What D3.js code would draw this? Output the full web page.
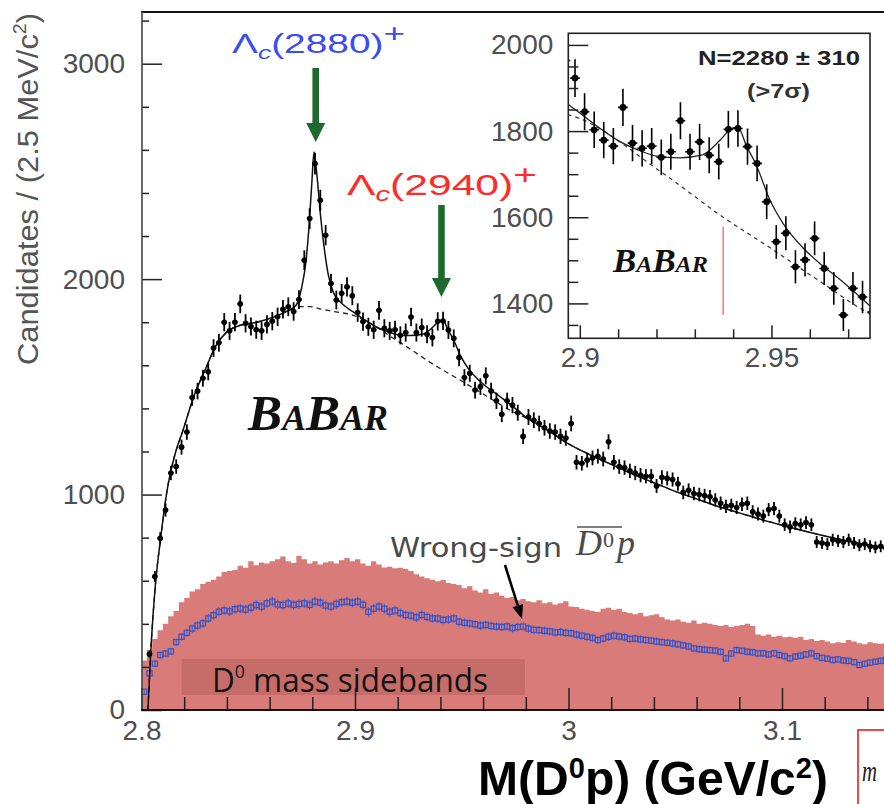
<!DOCTYPE html>
<html>
<head>
<meta charset="utf-8">
<script src="https://cdn.jsdelivr.net/npm/d3@7"></script>
<style>
  html, body { margin: 0; padding: 0; background: #fff; }
  svg { display: block; }
</style>
</head>
<body>
<svg id="chart" width="884" height="804"></svg>
<script>
// ---- binning: 2.5 MeV bins starting at 2.80 GeV ----
const binLow = 2.8;
const binWidth = 0.0025;

// D0 p candidates per bin (right sign)
const candidates = [
  null, 260, 620, 797, 928, 1100, 1130, 1220, 1290, 1450,
  1480, 1540, 1570, 1680, 1705, 1800, 1760, 1800, 1885, 1795,
  1780, 1765, 1760, 1790, 1805, 1825, 1860, 1872, 1850, 1905,
  2088, 2281, 2536, 2366, 2204, 1980, 1903, 1934, 1964, 1923,
  1845, 1803, 1779, 1765, 1855, 1772, 1760, 1765, 1739, 1752,
  1824, 1752, 1775, 1744, 1729, 1804, 1806, 1764, 1725, 1636,
  1543, 1563, 1485, 1501, 1551, 1481, 1435, 1373, 1435, 1415,
  1380, 1270, 1360, 1345, 1330, 1310, 1295, 1290, 1270, 1262,
  1330, 1150, 1145, 1160, 1170, 1178, 1165, 1245, 1150, 1130,
  1125, 1110, 1100, 1090, 1085, 1085, 1040, 1080, 1075, 1070,
  1050, 1010, 1020, 1005, 1000, 995, 990, 975, 960, 945,
  950, 940, 955, 960, 920, 910, 900, 930, 935, 900,
  860, 850, 865, 860, 870, 860, 780, 775, 770, 790,
  785, 780, 790, 775, 765, 770, 760, 755, 760, 750
];

// D0 mass sideband distribution (filled histogram)
const sidebands = [
  230, 280, 330, 370, 400, 435, 460, 500, 520, 550,
  560, 585, 595, 605, 620, 640, 645, 650, 670, 660,
  690, 672, 685, 680, 690, 700, 712, 690, 682, 715,
  700, 680, 690, 675, 685, 690, 680, 695, 705, 690,
  700, 680, 670, 690, 675, 662, 665, 658, 660, 655,
  645, 630, 620, 612, 605, 598, 603, 590, 585, 580,
  565, 575, 555, 545, 560, 540, 545, 530, 520, 525,
  510, 515, 505, 500, 510, 495, 500, 490, 495, 505,
  480, 478, 470, 465, 460, 455, 470, 475, 465, 470,
  455, 450, 445, 450, 435, 440, 445, 430, 420, 415,
  420, 410, 405, 415, 400, 405, 400, 395, 390, 395,
  385, 390, 395, 400, 390, 350, 345, 350, 340, 345,
  338, 340, 335, 340, 325, 330, 320, 325, 318, 310,
  315, 312, 325, 318, 310, 305, 315, 310, 308, 312
];

// wrong-sign anti-D0 p candidates
const wrongSign = [
  85, 170, 215, 255, 262, 272, 315, 340, 358, 378,
  392, 402, 425, 440, 456, 462, 458, 468, 471, 466,
  475, 487, 480, 495, 503, 490, 487, 495, 488, 492,
  495, 488, 503, 498, 485, 480, 492, 500, 503, 498,
  503, 488, 456, 470, 480, 470, 456, 462, 450, 441,
  438, 430, 441, 432, 425, 425, 418, 420, 425, 410,
  405, 402, 398, 392, 395, 390, 387, 385, 388, 380,
  385, 387, 378, 372, 371, 368, 365, 360, 362, 358,
  356, 350, 345, 340, 335, 325, 332, 340, 345, 341,
  338, 330, 332, 328, 325, 322, 318, 315, 312, 309,
  305, 300, 295, 286, 282, 280, 278, 276, 270, 240,
  262, 278, 275, 270, 268, 263, 263, 258, 263, 255,
  250, 240, 248, 252, 258, 263, 250, 242, 238, 232,
  235, 230, 228, 222, 209, 215, 220, 224, 228, 232
];

// fit curves [mass GeV, candidates]
const fitRise = [
  [2.8030, 0], [2.8045, 300], [2.8065, 580], [2.8090, 800], [2.8120, 1020],
  [2.8155, 1180], [2.8195, 1300], [2.8245, 1455], [2.8305, 1595], [2.8345, 1685],
  [2.8400, 1755], [2.8460, 1785], [2.8540, 1800], [2.8620, 1825], [2.8680, 1850]
];
const fitSignalRegion = [
  [2.8725, 1880], [2.8750, 1960], [2.8770, 2080], [2.8785, 2250], [2.8798, 2450],
  [2.8808, 2590], [2.8822, 2480], [2.8838, 2300], [2.8855, 2150], [2.8875, 2020],
  [2.8900, 1935], [2.8930, 1895], [2.8970, 1862], [2.9000, 1842], [2.9050, 1808],
  [2.9100, 1778], [2.9150, 1757], [2.9200, 1742], [2.9260, 1738], [2.9320, 1745],
  [2.9365, 1778], [2.9395, 1806], [2.9412, 1810], [2.9435, 1765], [2.9460, 1722],
  [2.9496, 1640], [2.9530, 1586], [2.9580, 1531], [2.9630, 1490], [2.9670, 1462],
  [2.9750, 1400], [2.9800, 1360]
];
const backgroundRegion = [
  [2.8740, 1872], [2.8790, 1872], [2.8844, 1860], [2.8890, 1852], [2.8930, 1845],
  [2.8970, 1838], [2.9217, 1702], [2.9374, 1600], [2.9500, 1527], [2.9620, 1455],
  [2.9748, 1380], [2.9800, 1356]
];
const fitTail = [
  [2.9900, 1300], [3.0000, 1235], [3.0100, 1185], [3.0200, 1140], [3.0300, 1095],
  [3.0400, 1055], [3.0500, 1015], [3.0600, 980], [3.0700, 945], [3.0800, 915],
  [3.0900, 885], [3.1000, 858], [3.1100, 832], [3.1200, 808], [3.1300, 786],
  [3.1400, 766], [3.1500, 748], [3.1600, 732]
];
const fitTotal = [...fitRise, ...fitSignalRegion, ...fitTail];
const fitBackground = [...fitRise, ...backgroundRegion, ...fitTail];

// axis ticks
const yMajor = [0, 1000, 2000, 3000];
const yMinor = d3.range(200, 3201, 200).filter(v => v % 1000 !== 0);
const xMajor = [2.8, 2.9, 3.0, 3.1];
const xMinor = [2.82, 2.84, 2.86, 2.88, 2.92, 2.94, 2.96, 2.98, 3.02, 3.04, 3.06, 3.08, 3.12, 3.14];
const insetYMajor = [1400, 1600, 1800, 2000];
const insetYMinor = d3.range(1350, 2001, 50).filter(v => v % 200 !== 0);
const insetXMajor = [2.9, 2.95];
const insetXMinor = [2.91, 2.92, 2.93, 2.94, 2.96, 2.97];

// resonances marked with arrows
const resonanceMasses = [2.8816, 2.9405];
const insetMarkerMass = 2.9374;
const yieldText = "N=2280 \u00b1 310";
const significanceText = "(>7\u03c3)";

const SANS = "'Liberation Sans', Arial, Helvetica, sans-serif";
const SERIF = "'Liberation Serif', 'Times New Roman', serif";
const TICK_COLOR = "#4e4e4e";

const svg = d3.select("#chart");
svg.append("rect").attr("width", 884).attr("height", 804).attr("fill", "#fff");

const xMain = d3.scaleLinear().domain([2.8, 3.2]).range([141.5, 995.5]);
const yMain = d3.scaleLinear().domain([0, 3240]).range([710, 12]);
const xIn = d3.scaleLinear().domain([2.897, 2.9757]).range([568.3, 870]);
const yIn = d3.scaleLinear().domain([1319, 2027]).range([338.3, 33.3]);

const center = k => binLow + (k + 0.5) * binWidth;

const defs = svg.append("defs");
defs.append("clipPath").attr("id", "clipMain")
  .append("rect").attr("x", 142).attr("y", 12).attr("width", 742).attr("height", 698);
defs.append("clipPath").attr("id", "clipInset")
  .append("rect").attr("x", 568.3).attr("y", 33.3).attr("width", 301.7).attr("height", 305);

// ---------------- main panel ----------------
const plot = svg.append("g").attr("clip-path", "url(#clipMain)");

// sideband histogram
const histData = sidebands.map((v, k) => ({ e: binLow + k * binWidth, v }));
histData.push({ e: binLow + sidebands.length * binWidth, v: sidebands[sidebands.length - 1] });
plot.append("path")
  .datum(histData)
  .attr("fill", "#d97b78")
  .attr("d", d3.area().curve(d3.curveStepAfter)
    .x(d => xMain(d.e)).y0(yMain(0)).y1(d => yMain(d.v)));

// sideband caption box
plot.append("rect").attr("x", 181.7).attr("y", 659).attr("width", 343.3).attr("height", 36)
  .attr("fill", "#c66d6a");
const sbText = plot.append("text").attr("x", 212).attr("y", 692)
  .attr("font-family", "'Open Sans', 'Noto Sans', sans-serif").attr("font-size", 32)
  .attr("fill", "#141414").attr("textLength", 276).attr("lengthAdjust", "spacingAndGlyphs");
sbText.append("tspan").text("D");
sbText.append("tspan").attr("font-size", 18).attr("dy", -14).text("0");
sbText.append("tspan").attr("dy", 14).text(" mass sidebands");

// wrong-sign points (open squares)
const ws = plot.append("g");
wrongSign.forEach((v, k) => {
  const cx = xMain(center(k)), cy = yMain(v), e = Math.sqrt(v);
  ws.append("line").attr("x1", cx).attr("x2", cx)
    .attr("y1", yMain(v - e)).attr("y2", yMain(v + e))
    .attr("stroke", "#3b57c8").attr("stroke-width", 1);
  ws.append("rect").attr("x", cx - 2.6).attr("y", cy - 2.6).attr("width", 5.2).attr("height", 5.2)
    .attr("fill", "none").attr("stroke", "#3453c9").attr("stroke-width", 1.2);
});

// fit curves
const lineMain = d3.line().curve(d3.curveMonotoneX).x(d => xMain(d[0])).y(d => yMain(d[1]));
plot.append("path").datum(fitBackground).attr("d", lineMain)
  .attr("fill", "none").attr("stroke", "#222").attr("stroke-width", 1.3).attr("stroke-dasharray", "5,4");
plot.append("path").datum(fitTotal).attr("d", lineMain)
  .attr("fill", "none").attr("stroke", "#111").attr("stroke-width", 1.5);

// data points with errors
function drawPoints(g, xs, ys, indices, r, sw) {
  indices.forEach(k => {
    const v = candidates[k];
    if (v == null) return;
    const c = center(k), e = Math.sqrt(v);
    const cx = xs(c), cy = ys(v);
    g.append("line").attr("x1", cx).attr("x2", cx)
      .attr("y1", ys(v - e)).attr("y2", ys(v + e))
      .attr("stroke", "#000").attr("stroke-width", sw);
    g.append("line").attr("x1", xs(c - binWidth / 2)).attr("x2", xs(c + binWidth / 2))
      .attr("y1", cy).attr("y2", cy)
      .attr("stroke", "#000").attr("stroke-width", sw);
    g.append("circle").attr("cx", cx).attr("cy", cy).attr("r", r).attr("fill", "#000");
  });
}
drawPoints(plot.append("g"), xMain, yMain, d3.range(candidates.length), 2.8, 1.8);

// ---------------- main axes ----------------
function styleAxis(g, size) {
  g.attr("font-family", SANS).attr("font-size", size);
  g.select(".domain").remove();
  g.selectAll(".tick line").attr("stroke", "#222").attr("stroke-width", 1.5);
  g.selectAll(".tick text").attr("fill", TICK_COLOR);
}
const fmt = d3.format("~g");

styleAxis(svg.append("g").attr("transform", "translate(142,0)")
  .call(d3.axisLeft(yMain).tickValues(yMajor).tickSizeInner(-20).tickSizeOuter(0)
    .tickPadding(17).tickFormat(d3.format("d"))), 28);
styleAxis(svg.append("g").attr("transform", "translate(142,0)")
  .call(d3.axisLeft(yMain).tickValues(yMinor).tickSizeInner(-7).tickSizeOuter(0).tickFormat("")), 28);

styleAxis(svg.append("g").attr("transform", "translate(0,710)")
  .call(d3.axisBottom(xMain).tickValues(xMajor).tickSizeInner(-22).tickSizeOuter(0)
    .tickPadding(10).tickFormat(fmt)), 28);
styleAxis(svg.append("g").attr("transform", "translate(0,710)")
  .call(d3.axisBottom(xMain).tickValues(xMinor).tickSizeInner(-13).tickSizeOuter(0).tickFormat("")), 28);

// frame
svg.append("line").attr("x1", 141).attr("x2", 884).attr("y1", 12).attr("y2", 12)
  .attr("stroke", "#111").attr("stroke-width", 2.2);
svg.append("line").attr("x1", 142).attr("x2", 142).attr("y1", 11).attr("y2", 711)
  .attr("stroke", "#444").attr("stroke-width", 1.6);
svg.append("line").attr("x1", 141).attr("x2", 884).attr("y1", 710).attr("y2", 710)
  .attr("stroke", "#111").attr("stroke-width", 2);

// axis titles
const yTitle = svg.append("text")
  .attr("transform", "translate(38,365) rotate(-90)")
  .attr("font-family", SANS).attr("font-size", 30).attr("fill", "#555")
  .attr("textLength", 352).attr("lengthAdjust", "spacingAndGlyphs");
yTitle.append("tspan").text("Candidates / (2.5 MeV/c");
yTitle.append("tspan").attr("font-size", 19).attr("dy", -12).text("2");
yTitle.append("tspan").attr("dy", 12).text(")");

const xTitle = svg.append("text").attr("x", 478).attr("y", 795)
  .attr("font-family", SANS).attr("font-weight", "bold").attr("font-size", 48).attr("fill", "#000")
  .attr("textLength", 350).attr("lengthAdjust", "spacingAndGlyphs");
xTitle.append("tspan").text("M(D");
xTitle.append("tspan").attr("font-size", 29).attr("dy", -17).text("0");
xTitle.append("tspan").attr("dy", 17).text("p) (GeV/c");
xTitle.append("tspan").attr("font-size", 29).attr("dy", -17).text("2");
xTitle.append("tspan").attr("dy", 17).text(")");

// ---------------- annotations ----------------
function resonanceLabel(x, yb, size, color, mass, len) {
  const t = svg.append("text").attr("x", x).attr("y", yb)
    .attr("font-family", SANS).attr("font-size", size).attr("fill", color)
    .attr("textLength", len).attr("lengthAdjust", "spacingAndGlyphs");
  t.append("tspan").text("\u039b");
  t.append("tspan").attr("font-size", size * 0.68).attr("font-style", "italic").attr("dy", 6).text("c");
  t.append("tspan").attr("dy", -6).text("(" + mass + ")");
  t.append("tspan").attr("font-size", size * 0.95).attr("dy", -11).text("+");
}
resonanceLabel(232, 53, 28, "#3b4cf0", "2880", 173);
resonanceLabel(347, 195, 30, "#ff2a2a", "2940", 190);

function greenArrow(xc, y0, tip) {
  const hw = 3.3, headH = 19, headW = 9.5;
  return `M${xc - hw},${y0}L${xc + hw},${y0}L${xc + hw},${tip - headH}L${xc + headW},${tip - headH}` +
    `L${xc},${tip}L${xc - headW},${tip - headH}L${xc - hw},${tip - headH}Z`;
}
svg.append("path").attr("d", greenArrow(xMain(resonanceMasses[0]), 68, 142)).attr("fill", "#1e6a2e");
svg.append("path").attr("d", greenArrow(xMain(resonanceMasses[1]), 205, 297)).attr("fill", "#1e6a2e");

function babar(x, yb, big, small, len) {
  const t = svg.append("text").attr("x", x).attr("y", yb)
    .attr("font-family", SERIF).attr("font-style", "italic").attr("font-weight", "bold")
    .attr("fill", "#111").attr("textLength", len).attr("lengthAdjust", "spacingAndGlyphs");
  [["B", big], ["A", small], ["B", big], ["AR", small]].forEach(([s, f]) =>
    t.append("tspan").attr("font-size", f).text(s));
}
babar(248, 430, 50, 35, 140);

// wrong-sign legend
svg.append("text").attr("x", 390).attr("y", 557)
  .attr("font-family", "'DejaVu Sans', Verdana, sans-serif").attr("font-size", 26).attr("fill", "#4a4a4a")
  .attr("textLength", 172).attr("lengthAdjust", "spacingAndGlyphs").text("Wrong-sign");
const wsMath = svg.append("text").attr("y", 555).attr("font-family", SERIF)
  .attr("font-style", "italic").attr("fill", "#4a4a4a");
wsMath.append("tspan").attr("x", 576).attr("font-size", 36).text("D");
wsMath.append("tspan").attr("x", 603).attr("y", 547).attr("font-style", "normal").attr("font-size", 22).text("0");
wsMath.append("tspan").attr("x", 617).attr("y", 555).attr("font-size", 36).text("p");
svg.append("line").attr("x1", 577).attr("x2", 622).attr("y1", 527).attr("y2", 527)
  .attr("stroke", "#555").attr("stroke-width", 1.4);
{
  const x0 = 505, y0 = 565, x1 = 522, y1 = 619;
  const len = Math.hypot(x1 - x0, y1 - y0), ux = (x1 - x0) / len, uy = (y1 - y0) / len;
  const bx = x1 - 14 * ux, by = y1 - 14 * uy;
  svg.append("line").attr("x1", x0).attr("y1", y0).attr("x2", bx).attr("y2", by)
    .attr("stroke", "#000").attr("stroke-width", 2.6);
  svg.append("path")
    .attr("d", `M${x1},${y1}L${bx + 5.5 * uy},${by - 5.5 * ux}L${bx - 5.5 * uy},${by + 5.5 * ux}Z`)
    .attr("fill", "#000");
}

// ---------------- inset ----------------
svg.append("rect").attr("x", 568.3).attr("y", 33.3).attr("width", 301.7).attr("height", 305).attr("fill", "#fff");
const inset = svg.append("g").attr("clip-path", "url(#clipInset)");

const lineIn = d3.line().curve(d3.curveMonotoneX).x(d => xIn(d[0])).y(d => yIn(d[1]));
inset.append("path").datum(fitBackground).attr("d", lineIn)
  .attr("fill", "none").attr("stroke", "#333").attr("stroke-width", 1.2).attr("stroke-dasharray", "4,4");
inset.append("path").datum(fitTotal).attr("d", lineIn)
  .attr("fill", "none").attr("stroke", "#222").attr("stroke-width", 1.3);

inset.append("line").attr("x1", xIn(insetMarkerMass)).attr("x2", xIn(insetMarkerMass))
  .attr("y1", yIn(1373)).attr("y2", yIn(1578)).attr("stroke", "#f07a7a").attr("stroke-width", 1.5);

const insetIdx = d3.range(candidates.length).filter(k => center(k) > 2.896 && center(k) < 2.977);
drawPoints(inset.append("g"), xIn, yIn, insetIdx, 3.4, 1.6);

babar(613, 271.7, 33, 23, 95);

styleAxis(svg.append("g").attr("transform", "translate(568.3,0)")
  .call(d3.axisLeft(yIn).tickValues(insetYMajor).tickSizeInner(-20).tickSizeOuter(0)
    .tickPadding(15).tickFormat(d3.format("d"))), 28);
styleAxis(svg.append("g").attr("transform", "translate(568.3,0)")
  .call(d3.axisLeft(yIn).tickValues(insetYMinor).tickSizeInner(-10).tickSizeOuter(0).tickFormat("")), 28);
styleAxis(svg.append("g").attr("transform", "translate(0,338.3)")
  .call(d3.axisBottom(xIn).tickValues(insetXMajor).tickSizeInner(-13).tickSizeOuter(0)
    .tickPadding(9).tickFormat(fmt)), 28);
styleAxis(svg.append("g").attr("transform", "translate(0,338.3)")
  .call(d3.axisBottom(xIn).tickValues(insetXMinor).tickSizeInner(-9).tickSizeOuter(0).tickFormat("")), 28);

svg.append("rect").attr("x", 568.3).attr("y", 33.3).attr("width", 301.7).attr("height", 305)
  .attr("fill", "none").attr("stroke", "#222").attr("stroke-width", 1.6);

svg.append("text").attr("x", 698).attr("y", 65)
  .attr("font-family", SANS).attr("font-weight", "bold").attr("font-size", 20).attr("fill", "#222")
  .attr("textLength", 162).attr("lengthAdjust", "spacingAndGlyphs").text(yieldText);
svg.append("text").attr("x", 747).attr("y", 98)
  .attr("font-family", SANS).attr("font-weight", "bold").attr("font-size", 20).attr("fill", "#333")
  .attr("textLength", 63).attr("lengthAdjust", "spacingAndGlyphs").text(significanceText);

// boxed symbol at the lower right edge
svg.append("rect").attr("x", 858).attr("y", 730).attr("width", 60).attr("height", 100)
  .attr("fill", "#fff").attr("stroke", "#e02020").attr("stroke-width", 1.6);
svg.append("text").attr("x", 862).attr("y", 781)
  .attr("font-family", SERIF).attr("font-style", "italic").attr("font-size", 30).attr("fill", "#222")
  .attr("textLength", 15).attr("lengthAdjust", "spacingAndGlyphs")
  .text("m");
</script>
</body>
</html>
